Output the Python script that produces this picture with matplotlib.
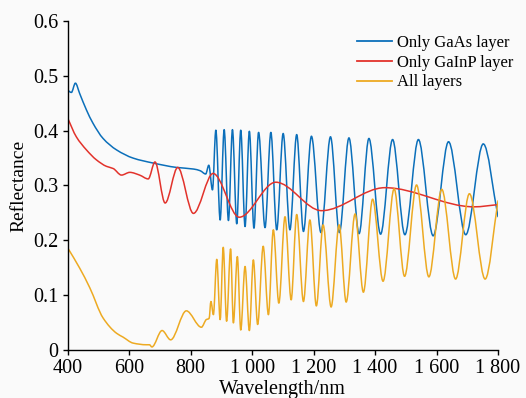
import numpy as np
import matplotlib
matplotlib.use("Agg")
import matplotlib.pyplot as plt
from matplotlib.path import Path
from matplotlib.patches import PathPatch
from matplotlib.lines import Line2D
from matplotlib.ticker import FuncFormatter

plt.rcParams['font.family'] = ['Liberation Serif', 'DejaVu Serif']

# values (wavelength nm, reflectance)
gaas_wl = [400, 412, 425, 439, 461, 482, 515, 559, 613, 678, 754, 810, 831, 849, 859, 871,
           882, 896, 909, 923, 936, 950, 963, 977, 991, 1006, 1021, 1042, 1061, 1080,
           1101, 1123, 1145, 1167, 1193, 1224, 1255, 1284, 1315, 1348, 1380, 1418,
           1457, 1497, 1541, 1589, 1639, 1695, 1752, 1800]
gaas_r = [0.474, 0.470, 0.487, 0.468, 0.438, 0.414, 0.386, 0.365, 0.350, 0.341, 0.333, 0.330, 0.327,
          0.321, 0.337, 0.292,
          0.401, 0.237, 0.402, 0.236, 0.402, 0.230, 0.401, 0.225, 0.399, 0.222, 0.397, 0.223,
          0.397, 0.219, 0.395, 0.219, 0.393, 0.216, 0.390, 0.214, 0.389, 0.214, 0.387,
          0.212, 0.386, 0.211, 0.384, 0.210, 0.384, 0.208, 0.380, 0.210, 0.376, 0.243]

gainp_wl = [400, 428, 461, 493, 526, 548, 575, 602, 634, 662, 684, 717, 758, 809, 873,
            958, 1077, 1226, 1432, 1722, 1800]
gainp_r = [0.423, 0.389, 0.365, 0.347, 0.335, 0.331, 0.319, 0.324, 0.319, 0.312, 0.343,
           0.268, 0.333, 0.249, 0.322, 0.242, 0.306, 0.254, 0.296, 0.261, 0.265]

all_wl = [400, 439, 472, 515, 559, 580, 613, 656, 666, 674, 707, 735, 786, 835, 851, 860,
          866, 874, 885, 896, 906, 917, 930, 939, 952, 963, 977, 991, 1004, 1018, 1036,
          1053, 1069, 1087, 1107, 1127, 1145, 1167, 1188, 1209, 1231, 1257, 1283, 1306,
          1335, 1362, 1392, 1426, 1462, 1496, 1535, 1575, 1617, 1662, 1707, 1758, 1800]
all_r = [0.186, 0.149, 0.113, 0.058, 0.030, 0.023, 0.012, 0.009, 0.009, 0.005, 0.035, 0.018,
         0.071, 0.041, 0.055, 0.057, 0.088, 0.064, 0.165, 0.055, 0.187, 0.052, 0.184, 0.049,
         0.170, 0.036, 0.152, 0.035, 0.164, 0.046, 0.189, 0.064, 0.219, 0.085, 0.243, 0.091,
         0.247, 0.088, 0.237, 0.080, 0.228, 0.078, 0.228, 0.087, 0.248, 0.105, 0.275, 0.125,
         0.294, 0.134, 0.301, 0.133, 0.293, 0.129, 0.285, 0.129, 0.272]

labels = ['Only GaAs layer', 'Only GaInP layer', 'All layers']
colors = ['#0b6fba', '#e2322b', '#edaa22']


def smooth_path(x, y):
    # cubic hermite (monotone) through the read points, drawn as bezier segments
    x = np.asarray(x, float)
    y = np.asarray(y, float)
    h = np.diff(x)
    d = np.diff(y) / h
    m = np.zeros_like(y)
    for i in range(1, len(y) - 1):
        if d[i - 1] * d[i] > 0:
            w1 = 2 * h[i] + h[i - 1]
            w2 = h[i] + 2 * h[i - 1]
            m[i] = (w1 + w2) / (w1 / d[i - 1] + w2 / d[i])
    m[0] = d[0]
    m[-1] = d[-1]
    verts = [(x[0], y[0])]
    codes = [Path.MOVETO]
    for i in range(len(x) - 1):
        verts += [(x[i] + h[i] / 3, y[i] + m[i] * h[i] / 3),
                  (x[i + 1] - h[i] / 3, y[i + 1] - m[i + 1] * h[i] / 3),
                  (x[i + 1], y[i + 1])]
        codes += [Path.CURVE4] * 3
    return Path(verts, codes)


fig = plt.figure(figsize=(5.26, 3.98), dpi=100, facecolor='#fafafa')
ax = fig.add_axes([0.1287, 0.1214, 0.8181, 0.8251])
ax.set_facecolor('#fafafa')

series = [(gaas_wl, gaas_r), (gainp_wl, gainp_r), (all_wl, all_r)]
for (wl, r), c in zip(series, colors):
    ax.add_patch(PathPatch(smooth_path(wl, r), fill=False, edgecolor=c, lw=1.1,
                           joinstyle='round', capstyle='round'))

ax.set_xlim(400, 1800)
ax.set_ylim(0, 0.6)
ax.set_xticks(np.arange(400, 1801, 200))
ax.set_yticks(np.arange(0, 0.61, 0.1))
ax.xaxis.set_major_formatter(FuncFormatter(
    lambda v, p: f"{v:,.0f}".replace(",", " ")))
ax.yaxis.set_major_formatter(FuncFormatter(
    lambda v, p: '0' if abs(v) < 1e-9 else f"{v:.1f}"))

for s in ['top', 'right']:
    ax.spines[s].set_visible(False)
for s in ['left', 'bottom']:
    ax.spines[s].set_linewidth(1.0)
ax.tick_params(direction='out', length=3.5, width=1.0, labelsize=14.5, pad=3)

ax.set_xlabel('Wavelength/nm', fontsize=14.5, labelpad=1.5)
ax.set_ylabel('Reflectance', fontsize=14, labelpad=4)

handles = [Line2D([], [], color=c, lw=1.3) for c in colors]
ax.legend(handles, labels, loc='upper left', bbox_to_anchor=(0.672, 0.958),
          frameon=False, fontsize=12, handlelength=2.1, handletextpad=0.3,
          labelspacing=0.22, borderaxespad=0, borderpad=0)

fig.savefig('out.png', dpi=100, facecolor=fig.get_facecolor())
